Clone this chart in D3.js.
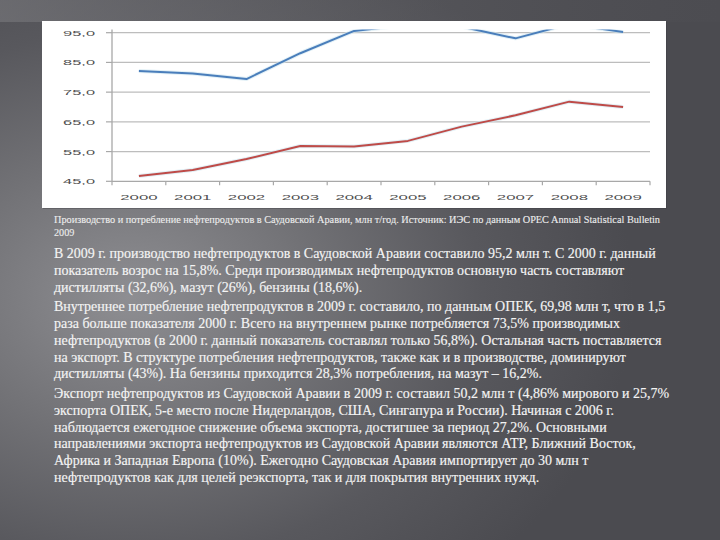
<!DOCTYPE html>
<html><head><meta charset="utf-8">
<script src="https://cdn.jsdelivr.net/npm/d3@7/dist/d3.min.js"></script>
<style>html,body{margin:0;padding:0;background:#505055;}svg{display:block;}</style>
</head><body>
<script>
const years = ["2000","2001","2002","2003","2004","2005","2006","2007","2008","2009"];
const production = [82.1, 81.3, 79.4, 88.1, 95.6, 97.6, 97.0, 93.1, 97.9, 95.2];
const consumption = [46.8, 48.8, 52.5, 56.9, 56.7, 58.6, 63.4, 67.2, 71.8, 69.98];
const yTicks = [45, 55, 65, 75, 85, 95];
const captionLines = [
  "Производство и потребление нефтепродуктов в Саудовской Аравии, млн т/год. Источник: ИЭС по данным OPEC Annual Statistical Bulletin",
  "2009"
];
const paragraphs = [
  ["В 2009 г. производство нефтепродуктов в Саудовской Аравии составило 95,2 млн т. С 2000 г. данный",
   "показатель возрос на 15,8%. Среди производимых нефтепродуктов основную часть составляют",
   "дистилляты (32,6%), мазут (26%), бензины (18,6%)."],
  ["Внутреннее потребление нефтепродуктов в 2009 г. составило, по данным ОПЕК, 69,98 млн т, что в 1,5",
   "раза больше показателя 2000 г. Всего на внутреннем рынке потребляется 73,5% производимых",
   "нефтепродуктов (в 2000 г. данный показатель составлял только 56,8%). Остальная часть поставляется",
   "на экспорт. В структуре потребления нефтепродуктов, также как и в производстве, доминируют",
   "дистилляты (43%). На бензины приходится 28,3% потребления, на мазут – 16,2%."],
  ["Экспорт нефтепродуктов из Саудовской Аравии в 2009 г. составил 50,2 млн т (4,86% мирового и 25,7%",
   "экспорта ОПЕК, 5-е место после Нидерландов, США, Сингапура и России). Начиная с 2006 г.",
   "наблюдается ежегодное снижение объема экспорта, достигшее за период 27,2%. Основными",
   "направлениями экспорта нефтепродуктов из Саудовской Аравии являются АТР, Ближний Восток,",
   "Африка и Западная Европа (10%). Ежегодно Саудовская Аравия импортирует до 30 млн т",
   "нефтепродуктов как для целей реэкспорта, так и для покрытия внутренних нужд."]
];

const W = 720, H = 540;
const SERIF = "'Liberation Serif', 'Times New Roman', 'DejaVu Serif', serif";
const SANS = "'Liberation Sans', Arial, sans-serif";
const svg = d3.select("body").append("svg").attr("width", W).attr("height", H);
const defs = svg.append("defs");

// background
const rg = defs.append("radialGradient").attr("id","bg").attr("cx","0.18").attr("cy","0.55").attr("r","0.7");
rg.append("stop").attr("offset","0%").attr("stop-color","#8e8e92");
rg.append("stop").attr("offset","35%").attr("stop-color","#737377");
rg.append("stop").attr("offset","70%").attr("stop-color","#58585d");
rg.append("stop").attr("offset","100%").attr("stop-color","#4b4b50");
svg.append("rect").attr("width",W).attr("height",H).attr("fill","url(#bg)");
const tg = defs.append("linearGradient").attr("id","topband").attr("x1","0").attr("x2","1");
tg.append("stop").attr("offset","0%").attr("stop-color","#7a7a7e").attr("stop-opacity",0.6);
tg.append("stop").attr("offset","100%").attr("stop-color","#505055").attr("stop-opacity",0.2);
svg.append("rect").attr("width",W).attr("height",22).attr("fill","url(#topband)");

// chart box
svg.append("rect").attr("x",43).attr("y",22).attr("width",624).attr("height",187).attr("fill","#3a3a3e").attr("opacity",0.35);
svg.append("rect").attr("x",42).attr("y",21).attr("width",624).attr("height",187).attr("fill","#ffffff");

const x = d3.scaleBand().domain(years).range([112, 650]).padding(0);
const y = d3.scaleLinear().domain([45, 95]).range([181.3, 32.7]);

defs.append("clipPath").attr("id","plotclip").append("rect")
  .attr("x",112).attr("y",29.5).attr("width",540).attr("height",160);

const g = svg.append("g");
g.selectAll("line.grid").data(yTicks).join("line")
  .attr("x1",112).attr("x2",650).attr("y1",d=>y(d)).attr("y2",d=>y(d))
  .attr("stroke",d=>d===45?"#a8a8a8":"#bdbdbd").attr("stroke-width",1.3);
g.selectAll("line.yt").data(yTicks).join("line")
  .attr("x1",106).attr("x2",112).attr("y1",d=>y(d)).attr("y2",d=>y(d))
  .attr("stroke","#a8a8a8").attr("stroke-width",1.2);
g.append("line").attr("x1",112).attr("x2",112).attr("y1",29.5).attr("y2",y(45))
  .attr("stroke","#a8a8a8").attr("stroke-width",1.3);
const bounds = years.map(d=>x(d)).concat([x(years[years.length-1])+x.bandwidth()]);
g.selectAll("line.xt").data(bounds).join("line")
  .attr("x1",d=>d).attr("x2",d=>d).attr("y1",y(45)).attr("y2",y(45)+4)
  .attr("stroke","#a8a8a8").attr("stroke-width",1.2);

g.selectAll("text.yl").data(yTicks).join("text")
  .attr("transform",d=>`translate(95,${y(d)+3}) scale(2.05,1)`)
  .attr("text-anchor","end")
  .attr("font-family",SANS).attr("font-size",8)
  .attr("fill","#505050")
  .text(d=>d.toFixed(1).replace(".",","));
g.selectAll("text.xl").data(years).join("text")
  .attr("transform",d=>`translate(${x(d)+x.bandwidth()/2},${200}) scale(2.1,1)`)
  .attr("text-anchor","middle")
  .attr("font-family",SANS).attr("font-size",8)
  .attr("fill","#505050")
  .text(d=>d);

const line = d3.line().x((d,i)=>x(years[i])+x.bandwidth()/2).y(d=>y(d));
const lg = svg.append("g").attr("clip-path","url(#plotclip)");
[[production,"#4a7ebb"],[consumption,"#be4b48"]].forEach(([data,col])=>{
  lg.append("path").datum(data).attr("d",line).attr("fill","none")
    .attr("stroke","#cfe6f0").attr("stroke-width",4).attr("opacity",0.6).attr("stroke-linejoin","round");
  lg.append("path").datum(data).attr("d",line).attr("fill","none")
    .attr("stroke",col).attr("stroke-width",2).attr("stroke-linejoin","round");
});

// caption
const cap = svg.append("g").attr("font-family",SERIF).attr("fill","#eeeeee")
  .attr("stroke","#eeeeee").attr("stroke-width",0.1);
cap.append("text").attr("x",54).attr("y",222.5).attr("font-size",10.2)
  .attr("textLength",606).attr("lengthAdjust","spacingAndGlyphs").text(captionLines[0]);
cap.append("text").attr("x",54).attr("y",235.5).attr("font-size",10.2).text(captionLines[1]);

// body
const body = svg.append("g").attr("font-family",SERIF)
  .attr("font-size",14).attr("fill","#f4f4f4")
  .attr("stroke","#f4f4f4").attr("stroke-width",0.15);
let yy = 258;
paragraphs.forEach((p,pi)=>{
  if (pi>0) yy += 2.5;
  p.forEach((l)=>{
    body.append("text").attr("x",54).attr("y",yy).text(l);
    yy += 16.85;
  });
});
</script>
</body></html>
